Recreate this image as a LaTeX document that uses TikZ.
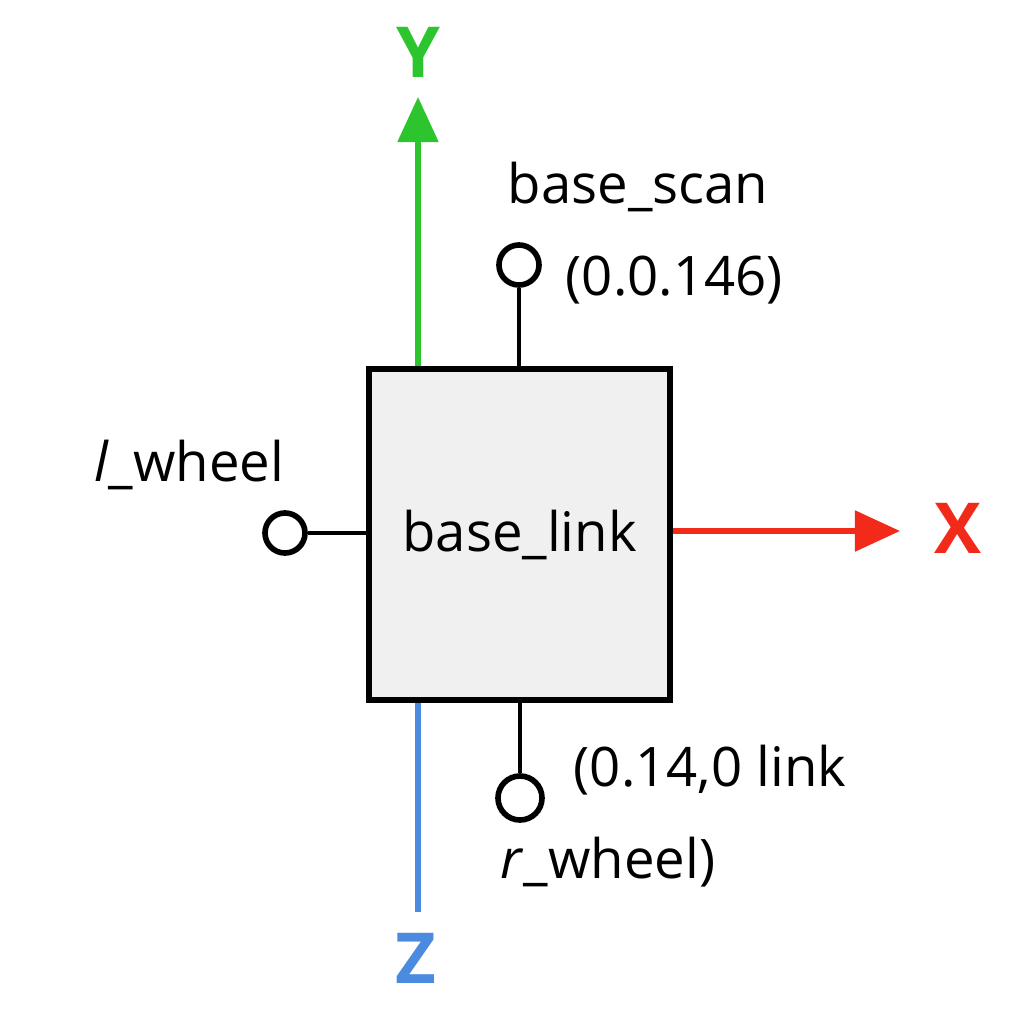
\documentclass[tikz,border=0pt]{standalone}
\usepackage{fontspec}
\setmainfont{Open Sans}
\usepackage{xcolor}
\usepackage{tikz}
\usetikzlibrary{arrows.meta,positioning}
\definecolor{ygreen}{HTML}{2DC52D}
\definecolor{xred}{HTML}{F22A1A}
\definecolor{zblue}{HTML}{4A8BE0}
\tikzset{
  linkbox/.style={
    rectangle,
    draw=black,
    line width=1.7pt,
    minimum width=3.01cm,
    minimum height=3.31cm,
    fill=gray!12,
    font=\fontsize{15.5}{19}\selectfont
  },
  joint/.style={
    circle,
    draw=black,
    line width=1.6pt,
    minimum size=0.4cm,
    inner sep=0pt
  },
  stem/.style={
    line width=1.3pt
  },
  axis/.style={
    line width=1.5pt
  },
  axislabel/.style={
    font=\fontsize{20}{24}\selectfont\bfseries
  },
  framelabel/.style={
    font=\fontsize{15.5}{19}\selectfont,
    inner sep=0pt
  }
}
\begin{document}
\begin{tikzpicture}[x=0.01cm,y=-0.01cm]
\useasboundingbox[fill=white] (0,0) rectangle (1024,1024);

\node[linkbox] (base) at (519.5,534.5) {base\_link};

% joints
\node[joint] (scan) at (519,265) {};
\node[joint] (lwheel) at (285,533) {};
\node[joint, minimum size=0.44cm] (rwheel) at (520,798) {};

\draw[stem] (scan) -- (scan |- base.north);
\draw[stem] (lwheel) -- (lwheel -| base.west);
\draw[stem] (rwheel) -- (rwheel |- base.south);

% axes
\coordinate (ytip) at (418,97);
\coordinate (xtip) at (900,531);
\coordinate (zend) at (418,912);

\draw[axis, ygreen, -{Triangle[length=0.45cm,width=0.4cm]}] (ytip |- base.north) -- (ytip);
\draw[axis, xred, -{Triangle[length=0.45cm,width=0.4cm]}] (base.east |- xtip) -- (xtip);
\draw[axis, zblue] (zend |- base.south) -- (zend);

\node[axislabel, text=ygreen] (ylab) at (418,52) {Y};
\node[axislabel, text=xred] (xlab) at (958,528) {X};
\node[axislabel, text=zblue] (zlab) at (416,958) {Z};

% frame names
\node[framelabel] (scanname) at (638,187) {base\_scan};
\node[framelabel, anchor=west] (scanpos) at (565,280) {(0.0.146)};
\node[framelabel] (lname) at (189,465) {\textit{l}\_wheel};
\node[framelabel, anchor=west] (rpos) at (573,770) {(0.14,0 link};
\node[framelabel, anchor=west] (rname) at (500,862) {\textit{r}\_wheel)};

\end{tikzpicture}
\end{document}
